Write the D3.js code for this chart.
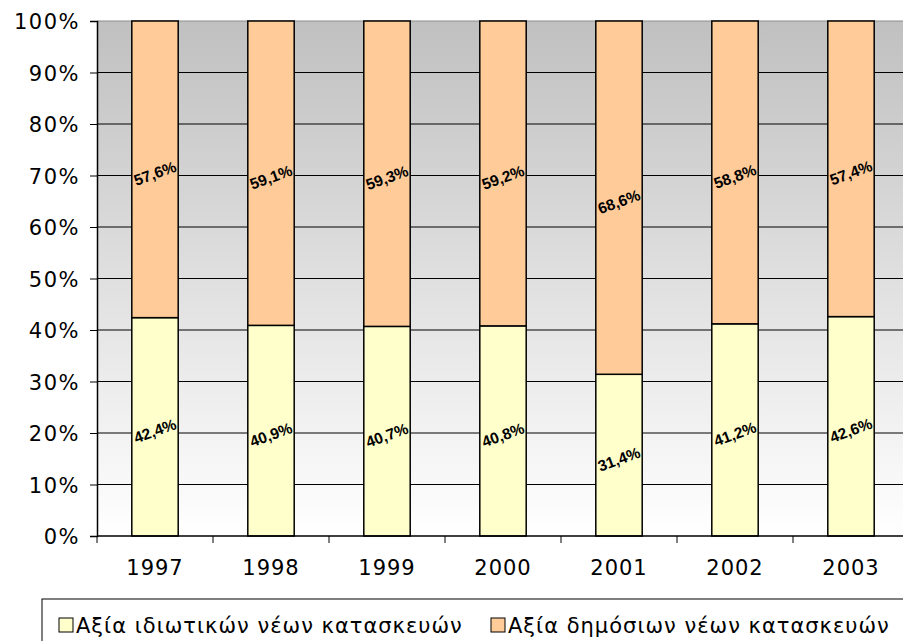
<!DOCTYPE html>
<html>
<head>
<meta charset="utf-8">
<script src="https://cdn.jsdelivr.net/npm/d3@7"></script>
<style>
  body { margin: 0; background: #fff; }
  svg { display: block; font-family: "DejaVu Sans", Verdana, sans-serif; }
</style>
</head>
<body>
<div id="chart"></div>
<script>
// data
const years = ['1997', '1998', '1999', '2000', '2001', '2002', '2003'];
const privateShare = [42.4, 40.9, 40.7, 40.8, 31.4, 41.2, 42.6];
const publicShare = [57.6, 59.1, 59.3, 59.2, 68.6, 58.8, 57.4];
const seriesNames = ['Αξία ιδιωτικών νέων κατασκευών', 'Αξία δημόσιων νέων κατασκευών'];
const seriesColors = ['#FFFFCC', '#FFCC99'];
const yTicks = [0, 0.1, 0.2, 0.3, 0.4, 0.5, 0.6, 0.7, 0.8, 0.9, 1];

const width = 903, height = 641;
const plotLeft = 97, plotTop = 21, plotBottom = 536, plotRight = 909;

const rows = years.map((y, i) => ({ year: y, priv: privateShare[i], pub: publicShare[i] }));
const stacked = d3.stack().keys(['priv', 'pub'])(rows);

const svg = d3.select('#chart').append('svg')
  .attr('width', width)
  .attr('height', height);

const x = d3.scaleBand()
  .domain(years)
  .range([plotLeft, plotRight])
  .paddingInner(0.6)
  .paddingOuter(0.3);

const y = d3.scaleLinear()
  .domain([0, 100])
  .range([plotBottom, plotTop]);

// plot background gradient
const grad = svg.append('defs').append('linearGradient')
  .attr('id', 'bg')
  .attr('x1', 0).attr('y1', 0).attr('x2', 0).attr('y2', 1);
grad.append('stop').attr('offset', '0%').attr('stop-color', '#c0c0c0');
grad.append('stop').attr('offset', '100%').attr('stop-color', '#ffffff');

svg.append('rect')
  .attr('x', plotLeft).attr('y', plotTop)
  .attr('width', plotRight - plotLeft).attr('height', plotBottom - plotTop)
  .attr('fill', 'url(#bg)');

// gridlines
svg.append('g')
  .selectAll('line')
  .data(yTicks.slice(1))
  .join('line')
    .attr('x1', plotLeft).attr('x2', plotRight)
    .attr('y1', d => y(d * 100)).attr('y2', d => y(d * 100))
    .attr('stroke', d => d === 1 ? '#8c8c8c' : '#000')
    .attr('stroke-width', 1);

// bars
const layer = svg.append('g')
  .selectAll('g')
  .data(stacked)
  .join('g')
    .attr('fill', (d, i) => seriesColors[i]);

layer.selectAll('rect')
  .data(d => d)
  .join('rect')
    .attr('x', d => x(d.data.year))
    .attr('y', d => y(d[1]))
    .attr('width', x.bandwidth())
    .attr('height', d => y(d[0]) - y(d[1]))
    .attr('stroke', '#000')
    .attr('stroke-width', 1.5);

// value labels
layer.selectAll('text')
  .data(d => d)
  .join('text')
    .attr('transform', d => `translate(${x(d.data.year) + x.bandwidth() / 2},${y((d[0] + d[1]) / 2) + 4}) rotate(-20)`)
    .attr('text-anchor', 'middle')
    .attr('dy', '0.35em')
    .attr('font-family', '"Liberation Sans", Arial, sans-serif')
    .attr('font-size', 15.5)
    .attr('font-weight', 'bold')
    .attr('fill', '#000')
    .text(d => (d[1] - d[0]).toFixed(1).replace('.', ',') + '%');

// y axis
const yAxis = svg.append('g')
  .attr('transform', `translate(${plotLeft},0)`)
  .call(d3.axisLeft(y)
    .tickValues(yTicks.map(t => t * 100))
    .tickFormat(d => d + '%')
    .tickSize(7)
    .tickPadding(10));
yAxis.select('.domain').attr('stroke', '#000').attr('stroke-width', 1.5);
yAxis.selectAll('text')
  .attr('font-size', 21)
  .attr('letter-spacing', 1.5)
  .attr('font-family', '"DejaVu Sans", Verdana, sans-serif')
  .attr('fill', '#000')
  .attr('dy', '0.36em');

// x axis: line plus ticks at category boundaries
const xAxis = svg.append('g');
xAxis.append('line')
  .attr('x1', plotLeft).attr('x2', plotRight)
  .attr('y1', plotBottom).attr('y2', plotBottom)
  .attr('stroke', '#000').attr('stroke-width', 1.5);
xAxis.selectAll('line.tick')
  .data(d3.range(years.length + 1))
  .join('line')
    .attr('class', 'tick')
    .attr('x1', i => plotLeft + i * x.step()).attr('x2', i => plotLeft + i * x.step())
    .attr('y1', plotBottom).attr('y2', plotBottom + 7)
    .attr('stroke', '#000');
xAxis.selectAll('text')
  .data(years)
  .join('text')
    .attr('x', d => x(d) + x.bandwidth() / 2)
    .attr('y', 575)
    .attr('text-anchor', 'middle')
    .attr('font-size', 21)
    .attr('letter-spacing', 1)
    .attr('fill', '#000')
    .text(d => d);

// legend
const legend = svg.append('g');
legend.append('rect')
  .attr('x', 42).attr('y', 599)
  .attr('width', 900).attr('height', 80)
  .attr('fill', '#fff')
  .attr('stroke', '#000');

const legendX = [59, 491];
seriesNames.forEach((name, i) => {
  legend.append('rect')
    .attr('x', legendX[i]).attr('y', 618)
    .attr('width', 14).attr('height', 14)
    .attr('fill', seriesColors[i])
    .attr('stroke', '#000');
  legend.append('text')
    .attr('x', legendX[i] + 17)
    .attr('y', 633)
    .attr('font-size', 21)
    .attr('letter-spacing', 1)
    .attr('fill', '#000')
    .text(name);
});
</script>
</body>
</html>
